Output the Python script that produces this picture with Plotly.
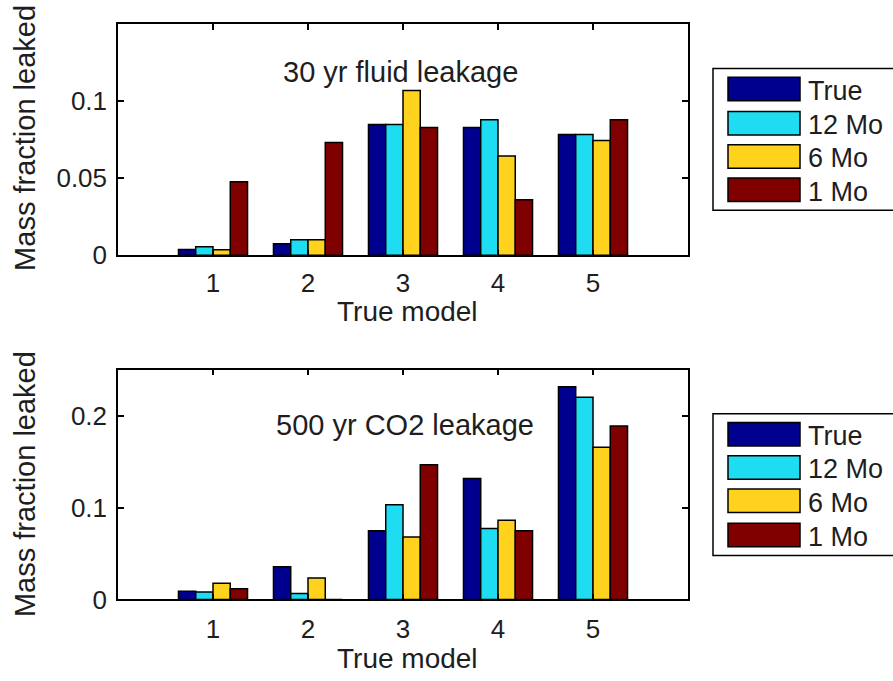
import plotly.graph_objects as go

# ---------------- data ----------------
categories = [1, 2, 3, 4, 5]
series_names = ["True", "12 Mo", "6 Mo", "1 Mo"]
series_colors = ["#00008F", "#1EDCF2", "#FFD21E", "#800000"]

# 30 yr fluid leakage (top panel)
fluid_true = [0.0037, 0.0074, 0.085, 0.083, 0.0784]
fluid_12mo = [0.0055, 0.0101, 0.085, 0.088, 0.0784]
fluid_6mo = [0.0035, 0.0101, 0.107, 0.0645, 0.0746]
fluid_1mo = [0.0478, 0.0732, 0.083, 0.036, 0.088]

# 500 yr CO2 leakage (bottom panel)
co2_true = [0.0089, 0.0356, 0.0747, 0.1317, 0.2313]
co2_12mo = [0.0082, 0.0064, 0.103, 0.0772, 0.2199]
co2_6mo = [0.0178, 0.0235, 0.068, 0.0861, 0.1655]
co2_1mo = [0.0117, 0.0, 0.1466, 0.0747, 0.1886]

top_ticks = [0, 0.05, 0.1]
top_ticktext = ["0", "0.05", "0.1"]
bot_ticks = [0, 0.1, 0.2]
bot_ticktext = ["0", "0.1", "0.2"]

top_title = "30 yr fluid leakage"
bot_title = "500 yr CO2 leakage"
x_title = "True model"
y_title = "Mass fraction leaked"

# ---------------- layout helpers ----------------
W, H = 893, 681
FONT = "Liberation Sans, Arial, Helvetica, sans-serif"
TXT = "#1e1e1e"


def fx(p):
    return p / W


def fy(p):
    return 1 - p / H


fig = go.Figure()

top_series = [fluid_true, fluid_12mo, fluid_6mo, fluid_1mo]
bot_series = [co2_true, co2_12mo, co2_6mo, co2_1mo]

for name, color, vals in zip(series_names, series_colors, top_series):
    fig.add_bar(x=categories, y=vals, name=name, xaxis="x", yaxis="y",
                marker=dict(color=color, line=dict(color="black", width=1.5)),
                showlegend=False)
for name, color, vals in zip(series_names, series_colors, bot_series):
    fig.add_bar(x=categories, y=vals, name=name, xaxis="x2", yaxis="y2",
                marker=dict(color=color, line=dict(color="black", width=1.5)),
                showlegend=False)

axis_common = dict(
    ticks="inside", ticklen=6, tickwidth=1.5, tickcolor="black",
    mirror="allticks", showline=True, linecolor="black", linewidth=1.5,
    showgrid=False, zeroline=False,
    tickfont=dict(family=FONT, size=26, color=TXT),
)

x_dom = [fx(118), fx(688)]
top_dom = [fy(261), fy(25)]
bot_dom = [fy(613), fy(378)]

fig.update_layout(
    width=W, height=H,
    margin=dict(l=0, r=0, t=0, b=0),
    paper_bgcolor="white", plot_bgcolor="white",
    barmode="group", bargap=0.273, bargroupgap=0,
    xaxis=dict(domain=x_dom, range=[0, 6], tickvals=categories, anchor="y",
               ticklabelstandoff=4, **axis_common),
    yaxis=dict(domain=top_dom, range=[0, 0.15], tickvals=top_ticks, ticktext=top_ticktext,
               anchor="x", ticklabelstandoff=4, **axis_common),
    xaxis2=dict(domain=x_dom, range=[0, 6], tickvals=categories, anchor="y2",
                ticklabelstandoff=6, **axis_common),
    yaxis2=dict(domain=bot_dom, range=[0, 0.25], tickvals=bot_ticks, ticktext=bot_ticktext,
                anchor="x2", ticklabelstandoff=4, **axis_common),
)

ann = []
shapes = []
fnt_title = dict(family=FONT, size=29, color=TXT)
fnt_ax = dict(family=FONT, size=28, color=TXT)
fnt_leg = dict(family=FONT, size=27, color=TXT)

# panel titles
ann.append(dict(text=top_title, x=fx(400), y=fy(74), xref="paper", yref="paper",
                showarrow=False, font=fnt_title, xanchor="center", yanchor="middle"))
ann.append(dict(text=bot_title, x=fx(405), y=fy(435), xref="paper", yref="paper",
                showarrow=False, font=fnt_title, xanchor="center", yanchor="middle"))
# axis titles
for xt_y, shift, yt_y in [(319, 0, 141), (663, -10, 495)]:
    ann.append(dict(text=x_title, x=fx(407), y=fy(xt_y), xref="paper", yref="paper",
                    showarrow=False, font=fnt_ax, xanchor="center", yanchor="middle",
                    yshift=shift))
    ann.append(dict(text=y_title, x=fx(25), y=fy(yt_y), xref="paper", yref="paper",
                    showarrow=False, font=fnt_title, textangle=-90,
                    xanchor="center", yanchor="middle"))

# manual legends (wide MATLAB-style swatches)
legends = [
    dict(box=(713, 70, 215), centers=[91, 126, 160, 194]),
    dict(box=(713, 423, 568), centers=[444, 478, 512, 547]),
]
for lg in legends:
    bx, by0, by1 = lg["box"]
    shapes.append(dict(type="rect", xref="paper", yref="paper",
                       x0=fx(bx), x1=fx(bx + 200), y0=fy(by1), y1=fy(by0),
                       line=dict(color="black", width=1.5), fillcolor="white", layer="below"))
    for name, color, cy in zip(series_names, series_colors, lg["centers"]):
        shapes.append(dict(type="rect", xref="paper", yref="paper",
                           x0=fx(728), x1=fx(800), y0=fy(cy + 12), y1=fy(cy - 12),
                           line=dict(color="black", width=1.5), fillcolor=color))
        ann.append(dict(text=name, x=fx(806), y=fy(cy + 2), xref="paper", yref="paper",
                        showarrow=False, font=fnt_leg, xanchor="left", yanchor="middle"))

fig.update_layout(annotations=ann, shapes=shapes)

fig.write_html("out.html")
